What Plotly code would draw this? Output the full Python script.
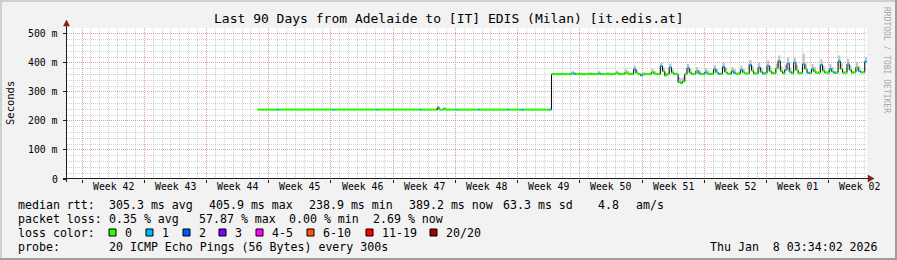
import plotly.graph_objects as go

# ---------------- figure geometry ----------------
FIG_W, FIG_H = 897, 260
L, T, R, B = 67, 28, 30, 81
PW = FIG_W - L - R          # 800
PH = FIG_H - T - B          # 151

MONO = "DejaVu Sans Mono"

# ---------------- data ----------------
title = "Last 90 Days from Adelaide to [IT] EDIS (Milan) [it.edis.at]"
span_days = 90.0
first_monday = 1.69                      # day offset of first week boundary
week_labels = ["Week 42", "Week 43", "Week 44", "Week 45", "Week 46", "Week 47",
               "Week 48", "Week 49", "Week 50", "Week 51", "Week 52", "Week 01", "Week 02"]
y_ticks = [0, 100, 200, 300, 400, 500]
y_tick_labels = ["0", "100 m", "200 m", "300 m", "400 m", "500 m"]
y_max = 520

# period A (before route change) – irregular samples
A_day = [21.4, 23.6, 23.8, 29.9, 30.1, 34.85, 35.0, 39.7, 39.85, 41.6, 41.72, 41.85,
         42.4, 42.55, 43.85, 44.0, 46.25, 46.45, 49.5, 49.65, 51.1, 51.35, 54.25]
A_rtt = [239, 239, 239, 239, 239, 239, 239, 239, 239, 241, 247, 239,
         243, 239, 239, 239, 239, 239, 239, 239, 239, 239, 239]
A_loss = [0, 1, 0, 1, 0, 1, 0, 1, 0, 15, 1, 0,
          0, 0, 1, 0, 1, 0, 1, 0, 1, 0, 1]
A_smoke = [241, 241, 241, 241, 241, 241, 241, 241, 241, 246, 252, 241,
           247, 241, 241, 241, 241, 241, 241, 241, 241, 241, 241]

# period B – 6 hour samples from day 54.5
B_start = 54.5
B_step = 0.25
B_rtt = [
    361, 361, 361, 361,  361, 361, 361, 361,  361, 364, 362, 361,  361, 361, 360, 361,
    361, 361, 361, 361,  361, 363, 361, 361,  361, 361, 360, 361,  362, 364, 361, 361,
    361, 366, 363, 361,  361, 378, 365, 361,  357, 360, 361, 361,  361, 367, 363, 361,
    361, 389, 371, 356,  361, 384, 366, 361,  361, 333, 330, 336,  361, 382, 366, 361,
    361, 372, 364, 361,  361, 367, 362, 361,  362, 378, 367, 362,  362, 386, 369, 362,
    362, 372, 365, 362,  363, 375, 367, 363,  363, 393, 373, 363,  363, 384, 369, 363,
    364, 390, 371, 364,  364, 381, 406, 372,  364, 376, 398, 369,  364, 401, 375, 364,
    365, 395, 379, 365,  365, 378, 371, 365,  366, 393, 373, 366,  366, 378, 370, 366,
    366, 405, 379, 366,  366, 395, 375, 366,  367, 384, 372, 367,  367, 404]
B_loss = [
    0, 0, 0, 0,  0, 0, 0, 0,  0, 0, 1, 0,  0, 0, 0, 0,
    0, 0, 0, 0,  0, 1, 0, 0,  0, 0, 0, 0,  0, 0, 0, 0,
    0, 0, 0, 0,  0, 1, 0, 0,  1, 0, 0, 0,  0, 0, 0, 0,
    0, 1, 0, 0,  0, 1, 0, 0,  0, 0, 0, 0,  0, 1, 0, 0,
    0, 0, 1, 0,  0, 1, 0, 0,  0, 1, 0, 1,  0, 1, 0, 0,
    0, 0, 1, 0,  0, 1, 0, 0,  0, 1, 0, 0,  0, 1, 0, 1,
    0, 1, 0, 0,  0, 0, 1, 0,  0, 1, 1, 0,  0, 1, 0, 0,
    0, 1, 0, 1,  0, 1, 0, 0,  0, 1, 0, 0,  0, 1, 0, 1,
    0, 1, 0, 0,  0, 1, 0, 0,  0, 0, 1, 0,  0, 1]
B_smoke = [
    365, 365, 366, 365,  365, 366, 365, 365,  365, 372, 368, 365,  365, 366, 365, 365,
    365, 368, 366, 365,  366, 372, 366, 365,  365, 368, 366, 365,  366, 374, 368, 365,
    366, 378, 372, 366,  366, 390, 376, 366,  364, 368, 366, 365,  366, 380, 372, 366,
    366, 402, 384, 366,  366, 398, 378, 366,  366, 350, 345, 352,  366, 396, 380, 366,
    366, 386, 376, 366,  366, 382, 374, 366,  367, 392, 380, 367,  367, 400, 384, 367,
    367, 386, 378, 367,  368, 390, 380, 368,  368, 410, 390, 368,  368, 400, 384, 368,
    369, 408, 388, 369,  369, 398, 425, 388,  369, 392, 418, 384,  369, 418, 392, 369,
    370, 432, 398, 370,  370, 396, 386, 370,  371, 412, 390, 371,  371, 396, 386, 371,
    371, 425, 398, 371,  371, 414, 392, 371,  372, 404, 388, 372,  372, 420]
end_day = 90.0

loss_bins = [(0, 0, "0", "#26ff00"), (1, 1, "1", "#00b8ff"), (2, 2, "2", "#0059ff"),
             (3, 3, "3", "#7e00ff"), (4, 5, "4-5", "#ff00ff"), (6, 10, "6-10", "#ff5500"),
             (11, 19, "11-19", "#ff0000"), (20, 20, "20/20", "#a10000")]

rtt_stats = ["305.3 ms avg", "405.9 ms max", "238.9 ms min", "389.2 ms now", "63.3 ms sd", "4.8", "am/s"]
loss_stats = ["0.35 % avg", "57.87 % max", "0.00 % min", "2.69 % now"]
probe_text = "20 ICMP Echo Pings (56 Bytes) every 300s"
stamp = "Thu Jan\u00a0\u00a08 03:34:02 2026"

# ---------------- assemble series ----------------
t = A_day + [B_start + i * B_step for i in range(len(B_rtt))]
v = A_rtt + B_rtt
loss = A_loss + B_loss
smoke = A_smoke + B_smoke
tt = t + [end_day]
vv = v + [v[-1]]
ss = smoke + [smoke[-1]]

fig = go.Figure()
fig.add_trace(go.Scatter(x=tt, y=vv, mode="lines", line=dict(width=0, shape="hv"),
                         hoverinfo="skip", showlegend=False))
fig.add_trace(go.Scatter(x=tt, y=ss, mode="lines", line=dict(width=0, shape="hv"),
                         fill="tonexty", fillcolor="#c4c4c4", hoverinfo="skip", showlegend=False))
fig.add_trace(go.Scatter(x=tt, y=vv, mode="lines", line=dict(color="#000000", width=1, shape="hv"),
                         hoverinfo="skip", showlegend=False))
for lo, hi, lab, col in loss_bins:
    xs, ys = [], []
    for i in range(len(t)):
        if lo <= loss[i] <= hi:
            xs += [t[i], tt[i + 1], None]
            ys += [v[i], v[i], None]
    if xs:
        fig.add_trace(go.Scatter(x=xs, y=ys, mode="lines", line=dict(color=col, width=2),
                                 hoverinfo="skip", showlegend=False))

mondays = [first_monday + 7 * k for k in range(len(week_labels))]
label_pos = [m + 3.5 for m in mondays]

MGRID = "rgba(230,90,90,0.42)"
GRID = "rgba(150,150,150,0.42)"

fig.update_xaxes(range=[0, span_days], tickvals=mondays, showticklabels=False,
                 ticks="outside", ticklen=3, tickcolor="#1f1f1f", tickwidth=1,
                 showgrid=True, gridcolor=MGRID, griddash="1px,1px", gridwidth=1,
                 minor=dict(tick0=first_monday, dtick=1, showgrid=True, gridcolor=GRID,
                            griddash="1px,1px", gridwidth=1),
                 zeroline=False, showline=False, fixedrange=True)
fig.update_yaxes(range=[0, y_max], tickvals=y_ticks, showticklabels=False,
                 ticks="outside", ticklen=3, tickcolor="#1f1f1f", tickwidth=1,
                 showgrid=True, gridcolor=MGRID, griddash="1px,1px", gridwidth=1,
                 minor=dict(tick0=0, dtick=20, showgrid=True, gridcolor=GRID,
                            griddash="1px,1px", gridwidth=1),
                 zeroline=False, showline=False, fixedrange=True)


def fx(px):
    return (px - L) / PW


def fy(py):
    return (T + PH - py) / PH


ann = []


def text(px, py, s, size=11.6, xanchor="left", color="#000000", angle=0):
    ann.append(dict(x=fx(px), y=fy(py), xref="paper", yref="paper", text=s, showarrow=False,
                    xanchor=xanchor, yanchor="middle", textangle=angle,
                    font=dict(family=MONO, size=size, color=color)))


# title
text(448.5, 19, title, size=13, xanchor="center")
# y tick labels
for val, lab in zip(y_ticks, y_tick_labels):
    ann.append(dict(x=fx(60), y=val, xref="paper", yref="y", text=lab, showarrow=False,
                    xanchor="right", yanchor="middle", font=dict(family=MONO, size=9.8, color="#000")))
# x tick labels
for pos, lab in zip(label_pos, week_labels):
    ann.append(dict(x=pos, y=fy(186.5), xref="x", yref="paper", text=lab, showarrow=False,
                    xanchor="center", yanchor="middle", font=dict(family=MONO, size=9.8, color="#000")))
# axis title and watermark
text(10, 103, "Seconds", size=10.5, xanchor="center", angle=-90)
text(887, 60, "RRDTOOL / TOBI OETIKER", size=8, xanchor="center", color="#a8a8a8", angle=90)

# legend lines
text(16, 204.5, "median rtt:")
for px, s in zip([107, 207, 307, 407, 501, 596, 634], rtt_stats):
    text(px, 204.5, s)
text(16, 218.5, "packet loss:")
for px, s in zip([107, 197, 287, 371], loss_stats):
    text(px, 218.5, s)
text(16, 232.5, "loss color:")
sq_left = [109, 146, 183, 219, 256, 307, 366, 430]
shapes = []
for px, (lo, hi, lab, col) in zip(sq_left, loss_bins):
    shapes.append(dict(type="rect", xref="paper", yref="paper", x0=fx(px), x1=fx(px + 7),
                       y0=fy(236), y1=fy(229), fillcolor=col, line=dict(color="#000", width=1)))
    text(px + 14.3, 232.5, lab)
text(16, 246.5, "probe:")
text(107, 246.5, probe_text)
text(880, 246.5, stamp, xanchor="right")

# frame (3D look)
shapes += [
    dict(type="rect", xref="paper", yref="paper", x0=fx(0), x1=fx(897), y0=fy(2), y1=fy(0),
         fillcolor="#cfcfcf", line=dict(width=0)),
    dict(type="rect", xref="paper", yref="paper", x0=fx(0), x1=fx(2), y0=fy(260), y1=fy(0),
         fillcolor="#cfcfcf", line=dict(width=0)),
    dict(type="rect", xref="paper", yref="paper", x0=fx(0), x1=fx(897), y0=fy(260), y1=fy(258),
         fillcolor="#9e9e9e", line=dict(width=0)),
    dict(type="rect", xref="paper", yref="paper", x0=fx(895), x1=fx(897), y0=fy(260), y1=fy(0),
         fillcolor="#9e9e9e", line=dict(width=0)),
]
# axes
AX = "#1f1f1f"
ARROW = "#801f1f"
shapes += [
    dict(type="line", xref="paper", yref="paper", x0=fx(63), x1=fx(869), y0=fy(178.5), y1=fy(178.5),
         line=dict(color=AX, width=1)),
    dict(type="line", xref="paper", yref="paper", x0=fx(66.5), x1=fx(66.5), y0=fy(182), y1=fy(25),
         line=dict(color=AX, width=1)),
    dict(type="path", xref="paper", yref="paper",
         path=f"M {fx(868)},{fy(175)} L {fx(874)},{fy(178.5)} L {fx(868)},{fy(182)} Z",
         fillcolor=ARROW, line=dict(color=ARROW, width=0.5)),
    dict(type="path", xref="paper", yref="paper",
         path=f"M {fx(63.5)},{fy(26)} L {fx(66.5)},{fy(20)} L {fx(69.5)},{fy(26)} Z",
         fillcolor=ARROW, line=dict(color=ARROW, width=0.5)),
]

fig.update_layout(width=FIG_W, height=FIG_H, margin=dict(l=L, r=R, t=T, b=B, pad=0),
                  paper_bgcolor="#f2f2f2", plot_bgcolor="#ffffff", showlegend=False,
                  annotations=ann, shapes=shapes)

fig.write_html("out.html")
